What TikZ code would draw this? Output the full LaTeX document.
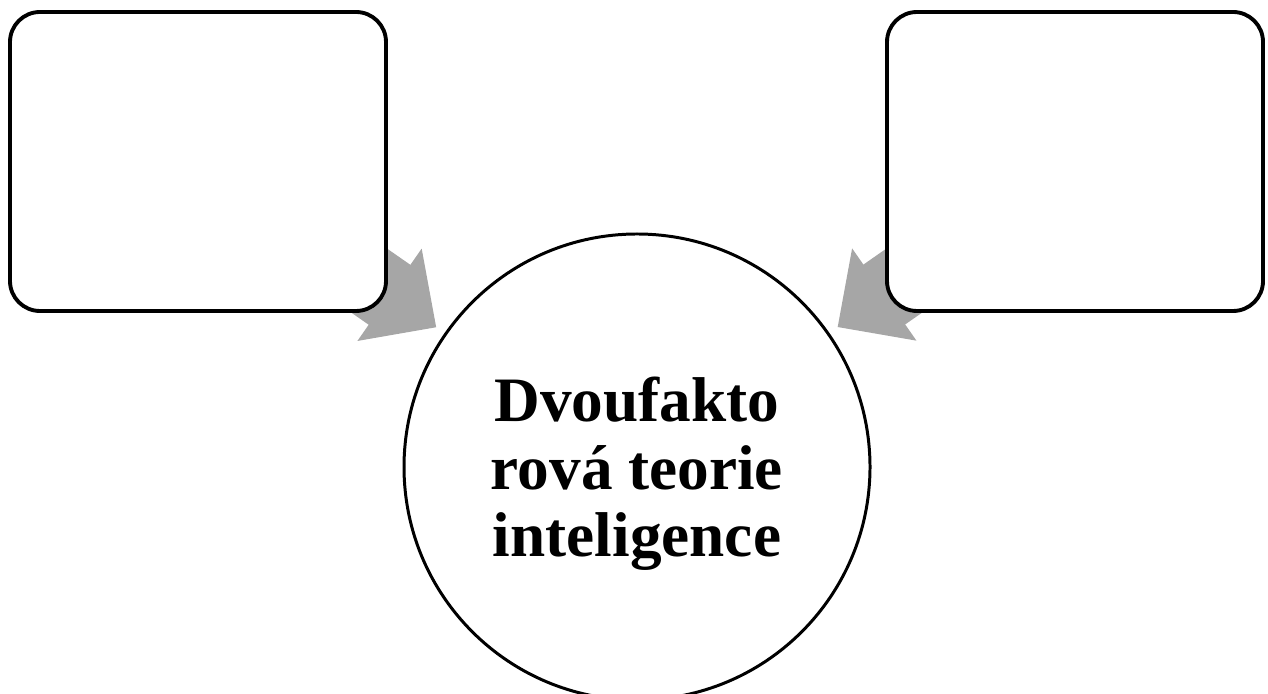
\documentclass[tikz,border=0pt]{standalone}
\usepackage{fontspec}
\setmainfont{Liberation Serif}
\usetikzlibrary{arrows.meta,backgrounds}

\begin{document}
\begin{tikzpicture}[
    box/.style={draw, line width=1.1pt, rounded corners=0.3cm, fill=white,
        minimum width=3.76cm, minimum height=2.99cm, inner sep=0pt},
    topic/.style={draw, circle, line width=0.85pt, fill=white, minimum size=4.66cm,
        inner sep=0pt},
    title/.style={align=center, inner sep=0pt, font=\fontsize{18}{19.2}\selectfont\bfseries},
    feed/.style={draw=black!35, line width=0.73cm,
        -{Triangle[width=1.09cm, length=0.57cm, fill=black!35]}, shorten >=0.1cm}
]
    \useasboundingbox (0,0) rectangle (12.68,6.93);

    % Nodes
    \node[topic] (theory) at (6.37,2.26) {};
    \node[title] (name) at ([yshift=-0.07cm]theory.center) {Dvoufakto\\rová teorie\\inteligence};
    \node[box] (left) at (1.98,5.315) {};
    \node[box] (right) at (10.75,5.315) {};

    % Arrows
    \begin{scope}[on background layer]
        \draw[feed] (left.center) -- (theory);
        \draw[feed] (right.center) -- (theory);
    \end{scope}
\end{tikzpicture}
\end{document}
